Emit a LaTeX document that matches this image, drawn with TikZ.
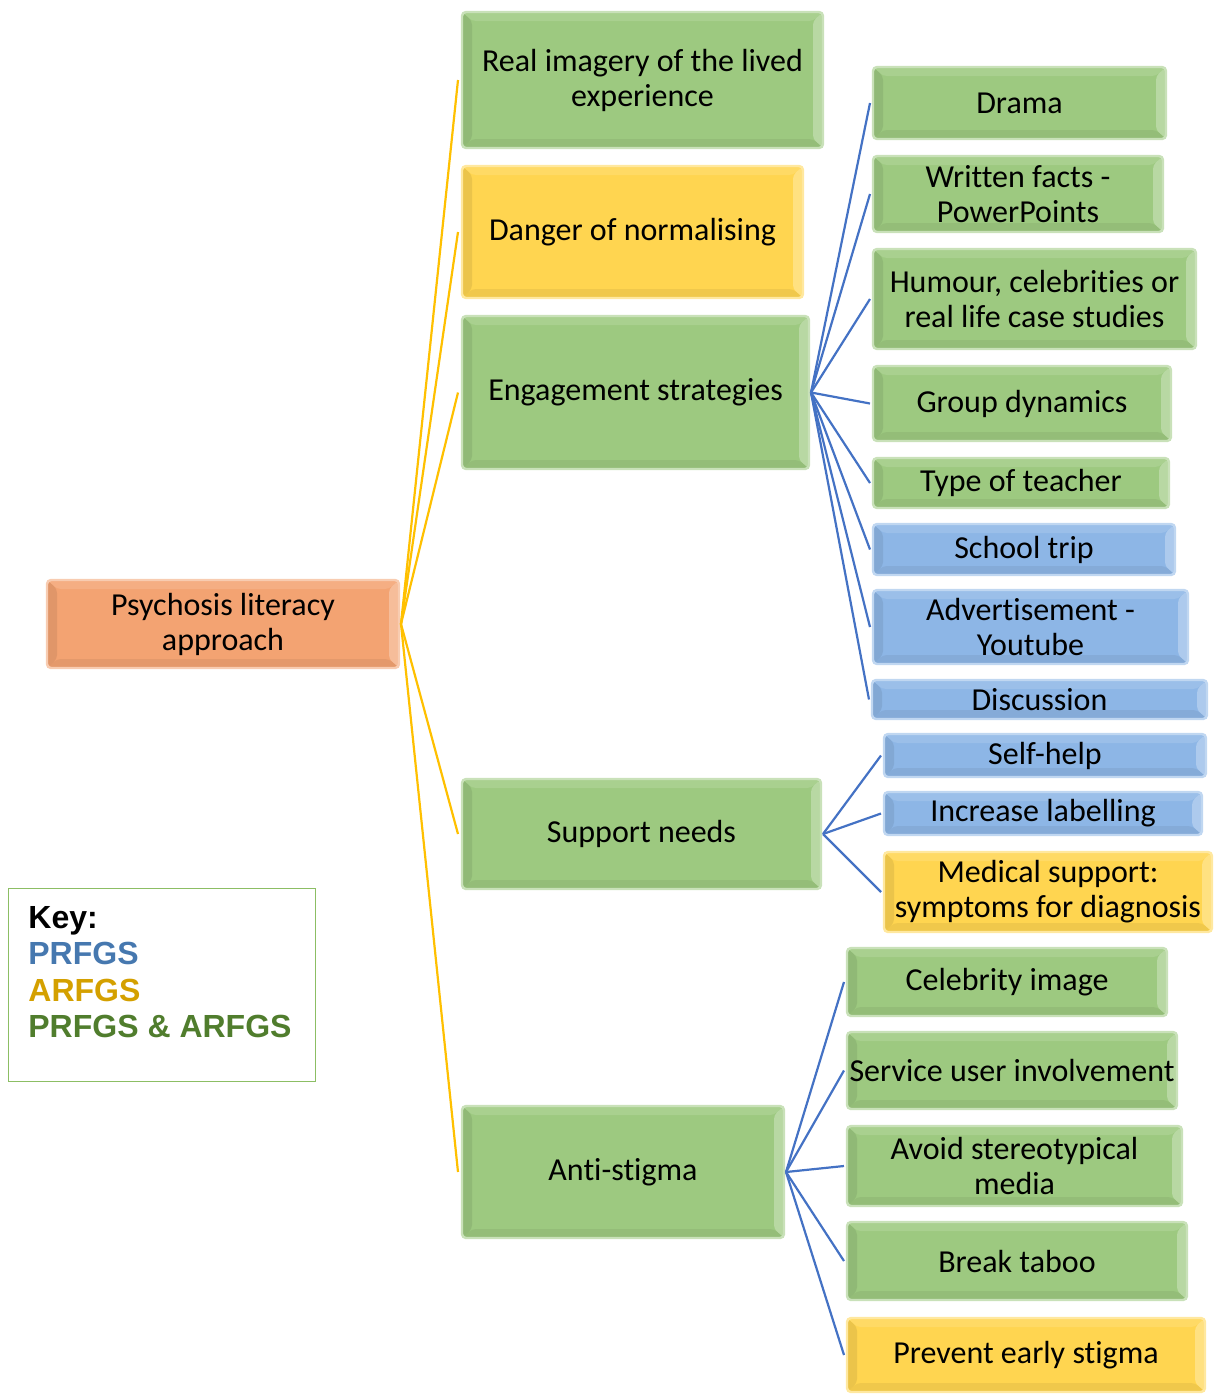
\documentclass[tikz,border=0pt]{standalone}
\usepackage{fontspec}
\setmainfont{Carlito}[Ligatures=NoCommon]
\newfontfamily\keyfont{Liberation Sans}
\definecolor{gbase}{RGB}{157,201,128}
\definecolor{bbase}{RGB}{141,182,230}
\definecolor{ybase}{RGB}{255,213,80}
\definecolor{obase}{RGB}{243,163,114}
\definecolor{goldline}{RGB}{255,192,0}
\definecolor{blueline}{RGB}{68,114,196}
\definecolor{keyblue}{RGB}{70,120,175}
\definecolor{keygold}{RGB}{212,160,0}
\definecolor{keygreen}{RGB}{80,125,45}
\definecolor{keyframe}{RGB}{140,190,100}
\tikzset{
  bevel/.style={
    fill=#1, draw=#1!55!white, line width=1.2pt, rounded corners=2pt,
    inner sep=0pt, outer sep=0pt, align=center, text=black,
    font=\fontsize{16}{17.5}\selectfont,
    path picture={
      \coordinate (bnw) at (path picture bounding box.north west);
      \coordinate (bne) at (path picture bounding box.north east);
      \coordinate (bsw) at (path picture bounding box.south west);
      \coordinate (bse) at (path picture bounding box.south east);
      \fill[#1!88!white] (bnw) -- (bne) -- ([shift={(-5pt,-4.5pt)}]bne) -- ([shift={(5pt,-4.5pt)}]bnw) -- cycle;
      \fill[#1!72!white] (bne) -- (bse) -- ([shift={(-5pt,4.5pt)}]bse) -- ([shift={(-5pt,-4.5pt)}]bne) -- cycle;
      \fill[#1!94!black] (bsw) -- (bse) -- ([shift={(-5pt,4.5pt)}]bse) -- ([shift={(5pt,4.5pt)}]bsw) -- cycle;
      \fill[#1!92!black] (bnw) -- (bsw) -- ([shift={(5pt,4.5pt)}]bsw) -- ([shift={(5pt,-4.5pt)}]bnw) -- cycle;
    }
  },
  gbox/.style={bevel=gbase},
  bbox/.style={bevel=bbase},
  ybox/.style={bevel=ybase},
  obox/.style={bevel=obase},
  gold/.style={draw=goldline, line width=1.1pt},
  blue/.style={draw=blueline, line width=1.1pt}
}
% box from left/top to right/bottom, in pixel units
\newcommand\bevelbox[7]{%
  \node[#6, minimum width={(#4-#2)*0.5pt}, minimum height={(#5-#3)*0.5pt}]
    (#1) at ({(#2+#4)/2},{(#3+#5)/2}) {#7};}
\begin{document}
\begin{tikzpicture}[x=0.5pt,y=-0.5pt]
\useasboundingbox (0,0) rectangle (1221,1394);

% root and first level
\bevelbox{root}{47}{580}{399}{668}{obox}{Psychosis literacy\\approach}
\bevelbox{real}{462}{12}{823}{148}{gbox}{Real imagery of the lived\\experience}
\bevelbox{danger}{462}{166}{803}{298}{ybox}{Danger of normalising}
\bevelbox{engage}{462}{316}{809}{469}{gbox}{Engagement strategies}
\bevelbox{support}{462}{779}{821}{889}{gbox}{Support needs}
\bevelbox{anti}{462}{1106}{784}{1238}{gbox}{Anti-stigma}

% engagement strategies
\bevelbox{drama}{873}{67}{1166}{139}{gbox}{Drama}
\bevelbox{facts}{873}{156}{1163}{232}{gbox}{Written facts -\\PowerPoints}
\bevelbox{humour}{873}{249}{1196}{349}{gbox}{Humour, celebrities or\\real life case studies}
\bevelbox{group}{873}{366}{1171}{441}{gbox}{Group dynamics}
\bevelbox{teacher}{873}{458}{1169}{508}{gbox}{Type of teacher}
\bevelbox{trip}{873}{524}{1175}{575}{bbox}{School trip}
\bevelbox{advert}{873}{590}{1188}{664}{bbox}{Advertisement -\\Youtube}
\bevelbox{discuss}{872}{680}{1207}{719}{bbox}{Discussion}

% support needs
\bevelbox{selfhelp}{884}{734}{1206}{777}{bbox}{Self-help}
\bevelbox{label}{884}{792}{1202}{835}{bbox}{Increase labelling}
\bevelbox{medical}{884}{852}{1212}{932}{ybox}{Medical support:\\symptoms for diagnosis}

% anti-stigma
\bevelbox{celeb}{847}{948}{1167}{1016}{gbox}{Celebrity image}
\bevelbox{service}{847}{1032}{1177}{1109}{gbox}{Service user involvement}
\bevelbox{avoid}{847}{1126}{1182}{1206}{gbox}{Avoid stereotypical\\media}
\bevelbox{taboo}{847}{1222}{1187}{1300}{gbox}{Break taboo}
\bevelbox{prevent}{847}{1318}{1205}{1392}{ybox}{Prevent early stigma}

% connectors
\foreach \c in {real,danger,engage,support,anti}
  \draw[gold] ([xshift=1pt]root.east) -- ([xshift=-2pt]\c.west);
\foreach \c in {drama,facts,humour,group,teacher,trip,advert,discuss}
  \draw[blue] ([xshift=1pt]engage.east) -- ([xshift=-1.5pt]\c.west);
\foreach \c in {selfhelp,label,medical}
  \draw[blue] ([xshift=1pt]support.east) -- ([xshift=-1.5pt]\c.west);
\foreach \c in {celeb,service,avoid,taboo,prevent}
  \draw[blue] ([xshift=1pt]anti.east) -- ([xshift=-1.5pt]\c.west);

% key
\node[draw=keyframe, line width=0.6pt, anchor=north west, inner sep=0pt,
      minimum width=153.5pt, minimum height=96.5pt] (keybox) at (8,888) {};
\node[anchor=north west, align=left, inner sep=0pt,
      font=\keyfont\bfseries\fontsize{16}{18.2}\selectfont] (keytext) at (28,906)
  {Key:\\
   \textcolor{keyblue}{PRFGS}\\
   \textcolor{keygold}{ARFGS}\\
   \textcolor{keygreen}{PRFGS \& ARFGS}};
\end{tikzpicture}
\end{document}
